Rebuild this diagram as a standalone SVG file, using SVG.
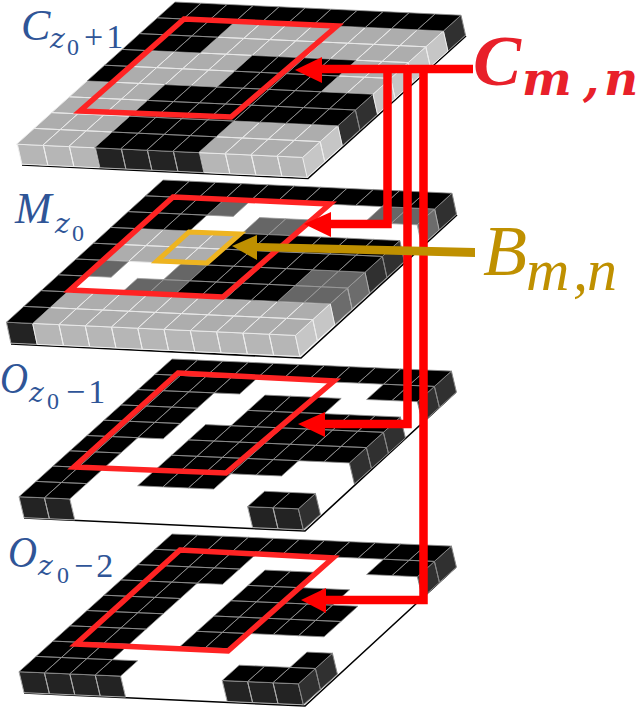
<svg xmlns="http://www.w3.org/2000/svg" width="640" height="708" viewBox="0 0 640 708">
<style>
path{vector-effect:non-scaling-stroke}
.k{fill:#000;stroke:#8f8f8f;stroke-width:.8}
.g{fill:#adadad;stroke:#e8e8e8;stroke-width:1}
.d{fill:#666;stroke:#999;stroke-width:.8}
.fk{fill:#232323;stroke:#aaa;stroke-width:1}
.fg{fill:#b6b6b6;stroke:#eee;stroke-width:1}
.sk{fill:#303030;stroke:#888;stroke-width:1}
.sg{fill:#c6c6c6;stroke:#eee;stroke-width:1}
.sd{fill:#6c6c6c;stroke:#aaa;stroke-width:1}
.floor{fill:none;stroke:#000;stroke-width:1.6}
.frame{fill:none;stroke:#ff2323;stroke-width:5.5;stroke-miterlimit:10}
.wire{fill:none;stroke:#ff0000;stroke-width:8.5}
.head{fill:#ff0000}
text{font-family:"Liberation Serif","Times New Roman",serif;font-style:italic}
.blue{fill:#2f5597;font-size:44px}
.sub{font-family:"DejaVu Serif",serif;font-size:28px}
.subsub{font-size:24px;font-style:normal}
.op{font-size:34px;font-style:normal;letter-spacing:3px}
.red{fill:#e8202a;font-weight:bold}
.redsub{font-family:"DejaVu Serif",serif;font-size:47px}
.gold{fill:#bf9000}
</style>

<g id="plate-c">
<polyline class="floor" points="22,165 308,178.500 466,36"/>
<g transform="matrix(26 1.2 4.500 20 17.400 144.200)">
<path class="fg" d="M0 0h1v1h-1zM1 0h1v1h-1zM2 0h1v1h-1zM7 0h1v1h-1zM8 0h1v1h-1zM9 0h1v1h-1zM10 0h1v1h-1z"/>
<path class="fk" d="M3 0h1v1h-1zM4 0h1v1h-1zM5 0h1v1h-1zM6 0h1v1h-1z"/>
</g>
<g transform="matrix(-17.6 15.8 4.500 20 461 15.200)">
<path class="sk" d="M0 0h1v1h-1zM5 0h1v1h-1zM6 0h1v1h-1z"/>
<path class="sg" d="M1 0h1v1h-1zM2 0h1v1h-1zM3 0h1v1h-1zM4 0h1v1h-1zM7 0h1v1h-1zM8 0h1v1h-1z"/>
</g>
<g transform="matrix(26 1.2 -17.6 15.8 175 2)">
<path class="g" d="M3 1h1v1h-1zM4 1h1v1h-1zM5 1h1v1h-1zM6 1h1v1h-1zM7 1h1v1h-1zM8 1h1v1h-1zM9 1h1v1h-1zM10 1h1v1h-1zM3 2h1v1h-1zM4 2h1v1h-1zM5 2h1v1h-1zM6 2h1v1h-1zM7 2h1v1h-1zM8 2h1v1h-1zM9 2h1v1h-1zM10 2h1v1h-1zM1 3h1v1h-1zM2 3h1v1h-1zM3 3h1v1h-1zM4 3h1v1h-1zM9 3h1v1h-1zM10 3h1v1h-1zM1 4h1v1h-1zM2 4h1v1h-1zM3 4h1v1h-1zM4 4h1v1h-1zM9 4h1v1h-1zM10 4h1v1h-1zM0 5h1v1h-1zM1 5h1v1h-1zM2 5h1v1h-1zM0 6h1v1h-1zM1 6h1v1h-1zM2 6h1v1h-1zM0 7h1v1h-1zM1 7h1v1h-1zM2 7h1v1h-1zM7 7h1v1h-1zM8 7h1v1h-1zM9 7h1v1h-1zM10 7h1v1h-1zM0 8h1v1h-1zM1 8h1v1h-1zM2 8h1v1h-1zM7 8h1v1h-1zM8 8h1v1h-1zM9 8h1v1h-1zM10 8h1v1h-1z"/>
<path class="k" d="M0 0h1v1h-1zM1 0h1v1h-1zM2 0h1v1h-1zM3 0h1v1h-1zM4 0h1v1h-1zM5 0h1v1h-1zM6 0h1v1h-1zM7 0h1v1h-1zM8 0h1v1h-1zM9 0h1v1h-1zM10 0h1v1h-1zM0 1h1v1h-1zM1 1h1v1h-1zM2 1h1v1h-1zM0 2h1v1h-1zM1 2h1v1h-1zM2 2h1v1h-1zM0 3h1v1h-1zM5 3h1v1h-1zM6 3h1v1h-1zM7 3h1v1h-1zM8 3h1v1h-1zM0 4h1v1h-1zM5 4h1v1h-1zM6 4h1v1h-1zM7 4h1v1h-1zM8 4h1v1h-1zM3 5h1v1h-1zM4 5h1v1h-1zM5 5h1v1h-1zM6 5h1v1h-1zM7 5h1v1h-1zM8 5h1v1h-1zM9 5h1v1h-1zM10 5h1v1h-1zM3 6h1v1h-1zM4 6h1v1h-1zM5 6h1v1h-1zM6 6h1v1h-1zM7 6h1v1h-1zM8 6h1v1h-1zM9 6h1v1h-1zM10 6h1v1h-1zM3 7h1v1h-1zM4 7h1v1h-1zM5 7h1v1h-1zM6 7h1v1h-1zM3 8h1v1h-1zM4 8h1v1h-1zM5 8h1v1h-1zM6 8h1v1h-1z"/>
</g>
<polygon class="frame" points="184,19 337,26 231,117 80,111"/>
</g>

<g id="plate-m">
<polyline class="floor" points="11,344 301,358 457,215"/>
<g transform="matrix(26.27 1.2 4.500 21 6.400 322.200)">
<path class="fk" d="M0 0h1v1h-1z"/>
<path class="fg" d="M1 0h1v1h-1zM2 0h1v1h-1zM3 0h1v1h-1zM4 0h1v1h-1zM5 0h1v1h-1zM6 0h1v1h-1zM7 0h1v1h-1zM8 0h1v1h-1zM9 0h1v1h-1zM10 0h1v1h-1z"/>
</g>
<g transform="matrix(-17.4 15.8 4.500 21 452 193.200)">
<path class="sk" d="M0 0h1v1h-1zM3 0h1v1h-1zM4 0h1v1h-1z"/>
<path class="sd" d="M1 0h1v1h-1zM5 0h1v1h-1zM6 0h1v1h-1z"/>
<path class="sg" d="M7 0h1v1h-1zM8 0h1v1h-1z"/>
</g>
<g transform="matrix(26.27 1.2 -17.4 15.8 163 180)">
<path class="g" d="M1 3h1v1h-1zM2 3h1v1h-1zM3 3h1v1h-1zM4 3h1v1h-1zM1 4h1v1h-1zM2 4h1v1h-1zM3 4h1v1h-1zM4 4h1v1h-1zM1 7h1v1h-1zM2 7h1v1h-1zM3 7h1v1h-1zM4 7h1v1h-1zM5 7h1v1h-1zM6 7h1v1h-1zM7 7h1v1h-1zM8 7h1v1h-1zM9 7h1v1h-1zM10 7h1v1h-1zM1 8h1v1h-1zM2 8h1v1h-1zM3 8h1v1h-1zM4 8h1v1h-1zM5 8h1v1h-1zM6 8h1v1h-1zM7 8h1v1h-1zM8 8h1v1h-1zM9 8h1v1h-1zM10 8h1v1h-1z"/>
<path class="d" d="M3 1h1v1h-1zM9 1h1v1h-1zM10 1h1v1h-1zM5 2h1v1h-1zM6 2h1v1h-1zM1 5h1v1h-1zM4 5h1v1h-1zM9 5h1v1h-1zM10 5h1v1h-1zM3 6h1v1h-1zM4 6h1v1h-1zM9 6h1v1h-1zM10 6h1v1h-1z"/>
<path class="k" d="M0 0h1v1h-1zM1 0h1v1h-1zM2 0h1v1h-1zM3 0h1v1h-1zM4 0h1v1h-1zM5 0h1v1h-1zM6 0h1v1h-1zM7 0h1v1h-1zM8 0h1v1h-1zM9 0h1v1h-1zM10 0h1v1h-1zM0 1h1v1h-1zM1 1h1v1h-1zM2 1h1v1h-1zM0 2h1v1h-1zM1 2h1v1h-1zM2 2h1v1h-1zM0 3h1v1h-1zM5 3h1v1h-1zM6 3h1v1h-1zM7 3h1v1h-1zM8 3h1v1h-1zM9 3h1v1h-1zM10 3h1v1h-1zM0 4h1v1h-1zM5 4h1v1h-1zM6 4h1v1h-1zM7 4h1v1h-1zM8 4h1v1h-1zM9 4h1v1h-1zM10 4h1v1h-1zM0 5h1v1h-1zM5 5h1v1h-1zM6 5h1v1h-1zM7 5h1v1h-1zM8 5h1v1h-1zM0 6h1v1h-1zM5 6h1v1h-1zM6 6h1v1h-1zM7 6h1v1h-1zM8 6h1v1h-1zM0 7h1v1h-1zM0 8h1v1h-1z"/>
</g>
<polygon class="frame" points="173,197 330,204 223,297 70,290"/>
<polygon id="block-b" fill="none" stroke="#eeb420" stroke-width="5" stroke-miterlimit="10" points="189,232 240,234 207,263 157,261"/>
</g>

<g id="plate-o1">
<polyline class="floor" points="24,518 305,531 456,392"/>
<g transform="matrix(25.4 1.1 5 21 19 496.700)">
<path class="fk" d="M0 0h1v1h-1zM1 0h1v1h-1zM9 0h1v1h-1zM10 0h1v1h-1z"/>
</g>
<g transform="matrix(-17 15.3 5 21 451.400 371.100)">
<path class="sk" d="M0 0h1v1h-1zM1 0h1v1h-1zM3 0h1v1h-1zM4 0h1v1h-1zM5 0h1v1h-1zM8 0h1v1h-1z"/>
</g>
<g transform="matrix(25.4 1.1 -17 15.3 172 359)">
<path class="k" d="M0 0h1v1h-1zM1 0h1v1h-1zM2 0h1v1h-1zM3 0h1v1h-1zM4 0h1v1h-1zM5 0h1v1h-1zM6 0h1v1h-1zM7 0h1v1h-1zM8 0h1v1h-1zM9 0h1v1h-1zM10 0h1v1h-1zM0 1h1v1h-1zM1 1h1v1h-1zM2 1h1v1h-1zM3 1h1v1h-1zM9 1h1v1h-1zM10 1h1v1h-1zM0 2h1v1h-1zM1 2h1v1h-1zM2 2h1v1h-1zM5 2h1v1h-1zM6 2h1v1h-1zM7 2h1v1h-1zM0 3h1v1h-1zM1 3h1v1h-1zM2 3h1v1h-1zM5 3h1v1h-1zM6 3h1v1h-1zM7 3h1v1h-1zM8 3h1v1h-1zM9 3h1v1h-1zM10 3h1v1h-1zM0 4h1v1h-1zM1 4h1v1h-1zM2 4h1v1h-1zM4 4h1v1h-1zM5 4h1v1h-1zM6 4h1v1h-1zM7 4h1v1h-1zM8 4h1v1h-1zM9 4h1v1h-1zM10 4h1v1h-1zM0 5h1v1h-1zM1 5h1v1h-1zM4 5h1v1h-1zM5 5h1v1h-1zM6 5h1v1h-1zM7 5h1v1h-1zM8 5h1v1h-1zM9 5h1v1h-1zM10 5h1v1h-1zM0 6h1v1h-1zM1 6h1v1h-1zM4 6h1v1h-1zM5 6h1v1h-1zM6 6h1v1h-1zM7 6h1v1h-1zM8 6h1v1h-1zM0 7h1v1h-1zM1 7h1v1h-1zM4 7h1v1h-1zM5 7h1v1h-1zM6 7h1v1h-1zM0 8h1v1h-1zM1 8h1v1h-1zM9 8h1v1h-1zM10 8h1v1h-1z"/>
</g>
<polygon class="frame" points="178,373 334,381 226,473 74,467"/>
</g>

<g id="plate-o2">
<polyline class="floor" points="24,693 305,706 456,567"/>
<g transform="matrix(25.4 1.1 5 21 19 671.700)">
<path class="fk" d="M0 0h1v1h-1zM1 0h1v1h-1zM2 0h1v1h-1zM3 0h1v1h-1zM8 0h1v1h-1zM9 0h1v1h-1zM10 0h1v1h-1z"/>
</g>
<g transform="matrix(-17 15.3 5 21 451.400 546.100)">
<path class="sk" d="M0 0h1v1h-1zM1 0h1v1h-1zM7 0h1v1h-1zM8 0h1v1h-1z"/>
</g>
<g transform="matrix(25.4 1.1 -17 15.3 172 534)">
<path class="k" d="M0 0h1v1h-1zM1 0h1v1h-1zM2 0h1v1h-1zM3 0h1v1h-1zM4 0h1v1h-1zM5 0h1v1h-1zM6 0h1v1h-1zM7 0h1v1h-1zM8 0h1v1h-1zM9 0h1v1h-1zM10 0h1v1h-1zM0 1h1v1h-1zM1 1h1v1h-1zM2 1h1v1h-1zM3 1h1v1h-1zM9 1h1v1h-1zM10 1h1v1h-1zM0 2h1v1h-1zM1 2h1v1h-1zM2 2h1v1h-1zM3 2h1v1h-1zM5 2h1v1h-1zM6 2h1v1h-1zM0 3h1v1h-1zM1 3h1v1h-1zM2 3h1v1h-1zM5 3h1v1h-1zM6 3h1v1h-1zM7 3h1v1h-1zM8 3h1v1h-1zM0 4h1v1h-1zM1 4h1v1h-1zM2 4h1v1h-1zM5 4h1v1h-1zM6 4h1v1h-1zM7 4h1v1h-1zM8 4h1v1h-1zM9 4h1v1h-1zM0 5h1v1h-1zM1 5h1v1h-1zM2 5h1v1h-1zM5 5h1v1h-1zM6 5h1v1h-1zM7 5h1v1h-1zM8 5h1v1h-1zM9 5h1v1h-1zM0 6h1v1h-1zM1 6h1v1h-1zM2 6h1v1h-1zM5 6h1v1h-1zM6 6h1v1h-1zM0 7h1v1h-1zM1 7h1v1h-1zM2 7h1v1h-1zM10 7h1v1h-1zM0 8h1v1h-1zM1 8h1v1h-1zM2 8h1v1h-1zM3 8h1v1h-1zM8 8h1v1h-1zM9 8h1v1h-1zM10 8h1v1h-1z"/>
</g>
<polygon class="frame" points="180,550 333,558 228,651 76,644"/>
</g>

<g id="connectors">
<path class="wire" d="M473 69H320"/>
<path class="wire" d="M387.500 69V224H328"/>
<path class="wire" d="M407.500 69V424H322"/>
<path class="wire" d="M423.500 69V600H323"/>
<polygon class="head" points="295,70 322,57 322,83"/>
<polygon class="head" points="304,224 331,212 331,237"/>
<polygon class="head" points="298,424 325,412 325,437"/>
<polygon class="head" points="301,600 326,588 326,613"/>
<polygon fill="#bf9000" points="475,248 475,257 257,251 257,243"/>
<polygon fill="#bf9000" points="232,246 257,235 257,260"/>
</g>

<g id="label-c">
<text class="blue" x="21" y="40">C<tspan class="sub" x="50" y="48">z</tspan><tspan class="subsub" x="67" y="55">0</tspan><tspan class="op" x="84" y="48">+1</tspan></text>
</g>
<g id="label-m">
<text class="blue" x="15" y="223">M<tspan class="sub" x="55" y="233">z</tspan><tspan class="subsub" x="72" y="241">0</tspan></text>
</g>
<g id="label-o1">
<text class="blue" x="0" y="393" textLength="28" lengthAdjust="spacingAndGlyphs">O</text>
<text class="blue" x="29" y="402"><tspan class="sub">z</tspan><tspan class="subsub" x="47" y="409">0</tspan><tspan class="op" x="66" y="403">−1</tspan></text>
</g>
<g id="label-o2">
<text class="blue" x="8" y="567" textLength="29" lengthAdjust="spacingAndGlyphs">O</text>
<text class="blue" x="38" y="575"><tspan class="sub">z</tspan><tspan class="subsub" x="57" y="583">0</tspan><tspan class="op" x="74" y="577">−2</tspan></text>
</g>
<g id="label-cmn">
<text class="red" x="473" y="85" font-size="72">C<tspan class="redsub" x="522" y="95">m</tspan><tspan class="redsub" x="583" y="95">,</tspan><tspan class="redsub" x="604" y="95">n</tspan></text>
</g>
<g id="label-bmn">
<text class="gold" x="483" y="275" font-size="72">B<tspan font-size="60" x="526" y="290">m</tspan><tspan font-size="60" x="573" y="290">,</tspan><tspan font-size="60" x="587" y="290">n</tspan></text>
</g>
</svg>
